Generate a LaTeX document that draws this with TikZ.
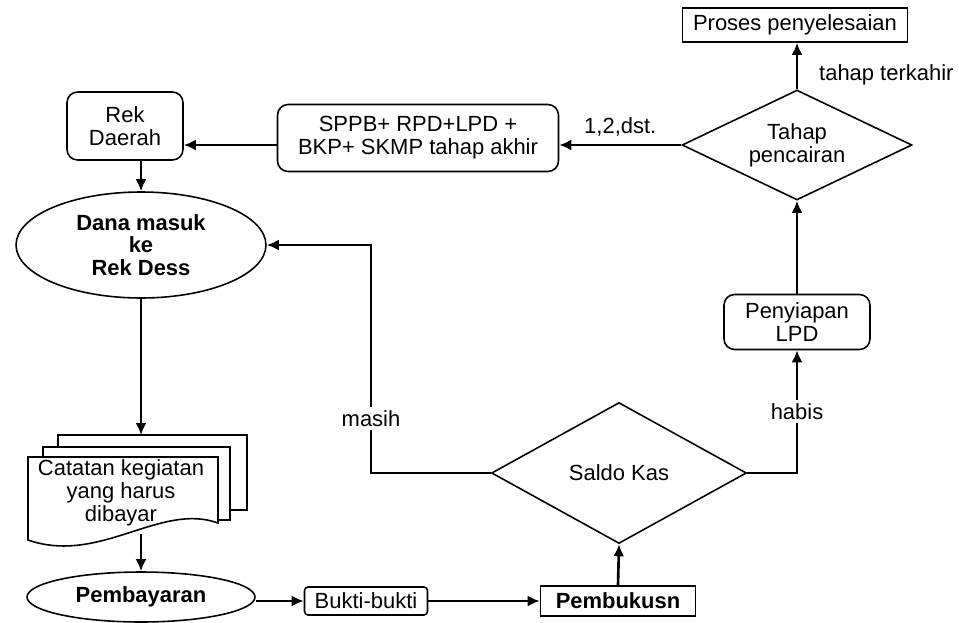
\documentclass[tikz,border=0pt]{standalone}
\usepackage{fontspec}
\setmainfont{Liberation Sans}
\usetikzlibrary{shapes.geometric, arrows, arrows.meta}
\usetikzlibrary{positioning}
\tikzstyle{proc} = [rectangle, rounded corners=6pt, align=center, draw=black, line width=0.9pt]
\tikzstyle{box} = [rectangle, align=center, draw=black, line width=0.9pt]
\tikzstyle{decision} = [diamond, aspect=2, inner sep=0pt, align=center, draw=black, line width=0.9pt]
\tikzstyle{startstop} = [ellipse, inner sep=0pt, align=center, draw=black, line width=0.9pt]
\tikzstyle{sheet} = [draw=black, line width=0.9pt, fill=white]
\tikzstyle{lbl} = [fill=white, inner sep=2pt]
\tikzstyle{arrow} = [line width=1.5pt,->,>={Latex[length=2.4mm,width=2.2mm]}]

\begin{document}
\begin{tikzpicture}[x=0.02cm, y=-0.02cm, node distance=1cm, font=\fontsize{12.5}{13}\selectfont]
  \useasboundingbox (0,0) rectangle (959,622);

  \node (fin) [box, minimum width=4.5cm, minimum height=0.68cm] at (795,25) {Proses penyelesaian};
  \node (tahap) [decision, minimum width=4.6cm, minimum height=2.2cm] at (797,145) {Tahap\\pencairan};
  \node (sppb) [proc, minimum width=5.62cm, minimum height=1.34cm] at (418,138) {SPPB+ RPD+LPD +\\BKP+ SKMP tahap akhir};
  \node (rekd) [proc, minimum width=2.32cm, minimum height=1.36cm] at (125,126) {Rek\\Daerah};
  \node (dana) [startstop, minimum width=5cm, minimum height=2.12cm, font=\fontsize{12.5}{13}\selectfont\bfseries] at (141,245) {Dana masuk\\ke\\Rek Dess};
  \node (lpd) [proc, minimum width=2.92cm, minimum height=1.1cm] at (797,322) {Penyiapan\\LPD};
  \node (saldo) [decision, minimum width=5.1cm, minimum height=2.82cm] at (619,473) {Saldo Kas};
  \node (bayar) [startstop, minimum width=4.56cm, minimum height=1cm, font=\fontsize{12.5}{13}\selectfont\bfseries] at (141,597) {Pembayaran};
  \node (bukti) [box, rounded corners=2pt, minimum width=2.46cm, minimum height=0.56cm] at (366,601) {Bukti-bukti};
  \node (bukusn) [box, minimum width=3.1cm, minimum height=0.6cm, font=\fontsize{12.5}{13}\selectfont\bfseries] at (618,601) {Pembukusn};

  % tumpukan dokumen
  \draw[sheet] (58,447) -- (58,435) -- (247,435) -- (247,510) -- (230,510);
  \draw[sheet] (43,457) -- (43,447) -- (230,447) -- (230,520) -- (218,520);
  \draw[sheet] (28,457) -- (218,457) -- (218,523) .. controls (160,502) and (100,565) .. (28,540) -- cycle;
  \node (doc) [align=center] at (121,493) {Catatan kegiatan\\yang harus\\dibayar};
  \coordinate (doctop) at (141,435);
  \coordinate (docbot) at (141,534);

  \draw[arrow] (tahap.north) -- node[pos=0.3, right=0.3cm] {tahap terkahir} (tahap.north |- fin.south);
  \draw[arrow] (tahap.west) -- node[above=1pt] {1,2,dst.} (tahap.west -| sppb.east);
  \draw[arrow] (sppb.west |- tahap.west) -- (rekd.east |- tahap.west);
  \draw[arrow] (rekd.south -| dana.north) -- (dana.north);
  \draw[arrow] (dana.south) -- (doctop);
  \draw[arrow] (docbot) -- (bayar.north);
  \draw[arrow] (bayar.east |- bukti.west) -- (bukti.west);
  \draw[arrow] (bukti.east) -- (bukusn.west);
  \draw[arrow] (bukusn.north) -- (saldo.south);
  \draw[arrow] (saldo.west) -- (371,473) |- node[lbl, pos=0.12] {masih} (dana.east);
  \draw[arrow] (saldo.east) -| node[lbl, pos=0.75] {habis} (lpd.south);
  \draw[arrow] (lpd.north) -- (tahap.south);

\end{tikzpicture}
\end{document}
